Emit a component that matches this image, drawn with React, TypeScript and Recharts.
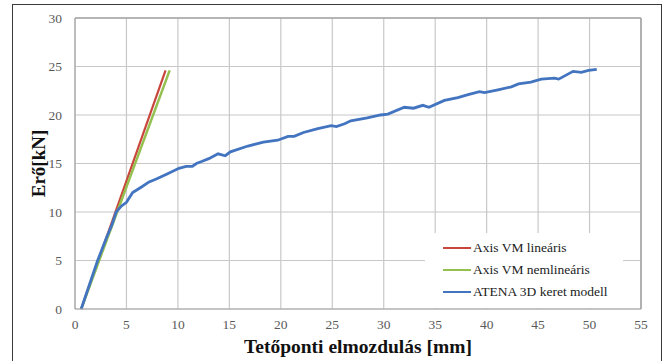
import React from "react";
import {
  CartesianGrid,
  Label,
  Line,
  LineChart,
  ReferenceLine,
  XAxis,
  YAxis,
} from "recharts";

const RED = "#c9463d";
const GREEN = "#94c050";
const BLUE = "#4274c0";
const GRID = "#c8c8c8";
const FRAME = "#a6a6a6";
const TICK = "#595959";
const SERIF = "'Liberation Serif', 'DejaVu Serif', serif";

const xTicks = [0, 5, 10, 15, 20, 25, 30, 35, 40, 45, 50, 55];
const yTicks = [0, 5, 10, 15, 20, 25, 30];

// Axis VM lineáris
const linX = [0.6, 8.8];
const linY = [0, 24.6];

// Axis VM nemlineáris
const nonlinX = [0.6, 9.2];
const nonlinY = [0, 24.6];

// ATENA 3D keret modell
const atenaX = [
  0.6, 1.4, 2.2, 3.0, 3.6, 4.0, 4.5, 5.0, 5.6, 6.5, 7.2, 7.9, 8.9, 10.1, 10.8,
  11.4, 11.8, 12.3, 13.0, 13.9, 14.6, 15.1, 16.8, 18.3, 19.7, 20.7, 21.3, 22.2,
  23.6, 24.9, 25.4, 26.2, 26.8, 28.4, 29.7, 30.4, 32.0, 32.9, 33.8, 34.4, 35.9,
  37.2, 38.2, 39.3, 39.8, 41.1, 42.4, 43.1, 44.3, 45.3, 46.6, 47.0, 48.4, 49.2,
  49.9, 50.7,
];
const atenaY = [
  0, 2.5, 5.0, 7.2, 8.7, 10.0, 10.6, 11.0, 12.0, 12.6, 13.1, 13.4, 13.9, 14.5,
  14.7, 14.7, 15.0, 15.2, 15.5, 16.0, 15.8, 16.2, 16.8, 17.2, 17.4, 17.8, 17.8,
  18.2, 18.6, 18.9, 18.8, 19.1, 19.4, 19.7, 20.0, 20.1, 20.8, 20.7, 21.0, 20.8,
  21.5, 21.8, 22.1, 22.4, 22.3, 22.6, 22.9, 23.2, 23.4, 23.7, 23.8, 23.7, 24.5,
  24.4, 24.6, 24.7,
];

const pts = (xs: number[], ys: number[]) => xs.map((x, i) => ({ x, y: ys[i] }));

const series = [
  { name: "Axis VM lineáris", color: RED, width: 2.2, data: pts(linX, linY) },
  { name: "Axis VM nemlineáris", color: GREEN, width: 2.5, data: pts(nonlinX, nonlinY) },
  { name: "ATENA 3D keret modell", color: BLUE, width: 2.8, data: pts(atenaX, atenaY) },
];

function XTick(p: any) {
  return (
    <text x={p.x} y={p.y + 12} textAnchor="middle" fontFamily="Liberation Serif" fontSize={13.5} fill={TICK}>
      {p.payload.value}
    </text>
  );
}

function YTick(p: any) {
  return (
    <text x={p.x - 5} y={p.y + 4.5} textAnchor="end" fontFamily="Liberation Serif" fontSize={13.5} fill={TICK}>
      {p.payload.value}
    </text>
  );
}

function BoxLegend() {
  return (
    <div
      style={{
        position: "absolute",
        left: 425,
        top: 233,
        width: 198,
        background: "#fff",
        padding: "4px 0 5px 18px",
        boxSizing: "border-box",
        fontFamily: SERIF,
        fontSize: 13.5,
        color: "#222",
      }}
    >
      {series.map((s) => (
        <div key={s.name} style={{ display: "flex", alignItems: "center", height: 22, whiteSpace: "nowrap" }}>
          <span style={{ width: 28, height: 2.5, background: s.color, display: "inline-block", flex: "none" }} />
          <span style={{ marginLeft: 2 }}>{s.name}</span>
        </div>
      ))}
    </div>
  );
}

export default function App() {
  return (
    <div style={{ position: "relative", width: 665, height: 361, overflow: "hidden", background: "#fff" }}>
      <style>{"body{margin:0}"}</style>
      <div
        style={{
          position: "absolute",
          left: 12,
          top: 4,
          width: 650,
          height: 370,
          border: "1.5px solid #3a3a3a",
          boxSizing: "border-box",
        }}
      />
      <LineChart
        width={665}
        height={361}
        margin={{ top: 18, right: 24, left: 0, bottom: 0 }}
        style={{ position: "absolute", left: 0, top: 0 }}
      >
        <CartesianGrid stroke={GRID} strokeWidth={1.2} />
        <XAxis
          type="number"
          dataKey="x"
          height={52}
          domain={[0, 55]}
          ticks={xTicks}
          interval={0}
          allowDataOverflow
          tickLine={false}
          axisLine={{ stroke: FRAME, strokeWidth: 1.2 }}
          tick={<XTick />}
        >
          <Label
            value="Tetőponti elmozdulás [mm]"
            position="insideBottom"
            offset={8}
            style={{ fontFamily: SERIF, fontSize: 19.5, fontWeight: 700, fill: "#111" }}
          />
        </XAxis>
        <YAxis
          type="number"
          dataKey="y"
          width={75}
          domain={[0, 30]}
          ticks={yTicks}
          interval={0}
          tickLine={false}
          axisLine={{ stroke: FRAME, strokeWidth: 1.2 }}
          tick={<YTick />}
        >
          <Label
            value="Erő[kN]"
            position="insideLeft"
            content={(p: any) => {
              const vb = p.viewBox || {};
              const cx = 38;
              const cy = (vb.y ?? 18) + (vb.height ?? 291) / 2;
              return (
                <text
                  x={cx}
                  y={cy}
                  transform={`rotate(-90 ${cx} ${cy})`}
                  textAnchor="middle"
                  dominantBaseline="central"
                  style={{ fontFamily: SERIF, fontSize: 19, fontWeight: 700, fill: "#111" }}
                >
                  Erő[kN]
                </text>
              );
            }}
          />
        </YAxis>
        <ReferenceLine y={30} stroke={FRAME} strokeWidth={1.6} />
        <ReferenceLine x={55} stroke={FRAME} strokeWidth={1.6} />
        {series.map((s) => (
          <Line
            key={s.name}
            data={s.data}
            dataKey="y"
            name={s.name}
            stroke={s.color}
            strokeWidth={s.width}
            dot={false}
            type="linear"
            isAnimationActive={false}
          />
        ))}
      </LineChart>
      <BoxLegend />
    </div>
  );
}
